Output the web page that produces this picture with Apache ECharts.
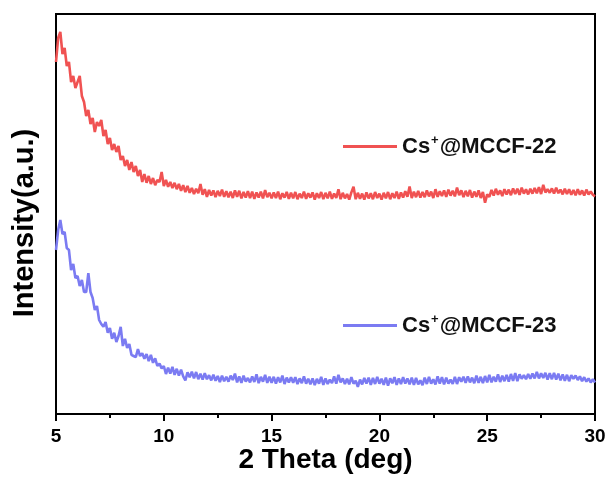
<!DOCTYPE html>
<html>
<head>
<meta charset="utf-8">
<script src="https://cdn.jsdelivr.net/npm/echarts@6/dist/echarts.min.js"></script>
<style>html,body{margin:0;padding:0;background:#fff}#c{width:610px;height:477px}</style>
</head>
<body>
<div id="c"></div>
<script>
// 2θ grid: 5.0 .. 30.0 deg, step 0.1 deg
const thetaStart = 5;
const thetaStep = 0.1;
const xTicks = [5, 10, 15, 20, 25, 30];
const seriesNames = ['Cs+@MCCF-22', 'Cs+@MCCF-23'];

// Intensity (a.u.)
const mccf22 = [
  88, 94, 95.5, 90, 91.5, 87, 88, 83, 84.5, 81.5,
  83, 84.5, 79.5, 78, 74.5, 76, 72.5, 74, 70.5, 73,
  72, 73.5, 69.5, 71, 67.5, 69, 66, 67.5, 65.5, 67,
  63.5, 64.5, 62, 63.5, 61, 63, 60.5, 62, 59.5, 61,
  58, 60, 57.8, 59.5, 57.5, 59, 57.2, 58.5, 58, 60.5,
  57, 58.5, 56.8, 58, 56.5, 57.8, 56.2, 57.5, 55.8, 57.2,
  55.5, 57, 55.3, 56.5, 55, 56.3, 55.2, 57.5, 54.8, 56.2,
  54.3, 56, 54.6, 55.9, 54.2, 55.8, 54.5, 56.1, 54.3, 55.7,
  54.2, 55.6, 54, 55.9, 54.3, 55.8, 53.9, 55.5, 54.1, 55.7,
  54, 55.6, 53.8, 55.4, 54.1, 55.6, 53.9, 56, 54.2, 55.3,
  53.9, 55.4, 54, 55.6, 53.7, 55.2, 54.1, 55.5, 53.8, 55.3,
  53.9, 55.5, 53.7, 55.1, 54, 55.6, 53.8, 55.2, 54.1, 55.4,
  53.6, 55.2, 54, 55.5, 53.7, 55.3, 53.9, 55.6, 53.8, 55.1,
  54, 56.2, 53.7, 55.3, 53.9, 55, 53.6, 55.4, 56.8, 53.7,
  55.3, 53.8, 55.1, 53.6, 55.4, 53.9, 55.2, 53.7, 55.5, 54,
  55.1, 53.6, 55.3, 53.9, 55.5, 53.7, 55.2, 54, 55.6, 53.8,
  55.4, 54.1, 55.7, 54.3, 56.9, 54, 55.6, 54.2, 55.8, 54.1,
  55.5, 54.2, 55.9, 54.4, 55.6, 54, 56.2, 54.3, 55.7, 54.5,
  55.9, 54.3, 56.1, 54.6, 55.8, 54.4, 56.6, 54.7, 55.9, 54.2,
  55.8, 54.4, 56, 54.1, 55.6, 54.3, 55.9, 54, 55.5, 52.8,
  54.9, 54.3, 56, 54.6, 56.3, 54.8, 55.9, 54.5, 56.2, 54.9,
  56.1, 54.7, 56.4, 55, 56.3, 54.8, 56.6, 55.1, 56.2, 54.9,
  56.3, 55.1, 56.5, 55.2, 56.7, 55, 57.3, 55.4, 56.2, 55.3,
  56.4, 55.1, 56.6, 55.2, 56.1, 54.9, 56.3, 55, 56.2, 54.8,
  56, 54.7, 56.2, 54.8, 55.9, 54.6, 56.1, 54.9, 55.6, 54.8,
  54.4
];
const mccf23 = [
  41, 46, 48.5, 45, 45.5, 41.5, 41, 36, 37.5, 34,
  34.5, 32, 33.5, 30.5, 30.5, 35.2, 30.5, 29, 26, 27,
  23.5, 22.5, 21.8, 23, 20.3, 21.5, 18.8, 20.3, 18, 19.5,
  21.8, 17, 18.8, 16.5, 17.5, 14.8, 14.5, 14.2, 16.2, 14.5,
  15.2, 13.8, 15, 13.2, 14.8, 12.8, 13.9, 12, 12.6, 11.4,
  12, 10, 11.6, 10.1, 11.8, 9.8, 11.3, 9.6, 11.1, 9.4,
  8.4, 10.4, 9.2, 10.6, 8.9, 10.5, 8.7, 10.1, 8.6, 10.2,
  8.7, 9.7, 8.4, 9.8, 8.3, 9.5, 8, 9.6, 8.2, 9.3,
  8.1, 9.6, 8.5, 10.1, 7.9, 9.4, 7.8, 9.6, 8.1, 9,
  7.9, 9.4, 8, 9.9, 7.7, 9.3, 8.1, 9.8, 7.8, 9.3,
  7.8, 9.3, 7.6, 9.2, 7.9, 9.6, 7.5, 9.1, 7.9, 9.2,
  7.8, 9.2, 7.5, 8.9, 7.7, 9.4, 7.6, 8.8, 7.4, 8.9,
  7.2, 8.8, 7.6, 9.3, 7.3, 8.9, 7.5, 8.6, 7.7, 9.4,
  7.6, 9.8, 7.9, 8.9, 7.5, 8.8, 7.4, 9.2, 7.6, 8.3,
  6.8, 8.6, 7.4, 9, 7.6, 9.1, 7.3, 9, 7.5, 9.3,
  7.6, 8.8, 7.3, 9.1, 7.1, 8.9, 7.7, 9.2, 7.3, 8.9,
  7.5, 9.2, 7.6, 8.9, 7.4, 9.1, 7.3, 9, 7.4, 8.4,
  7.2, 9.1, 7.5, 9.3, 7.6, 8.7, 7.4, 9.4, 7.6, 9.2,
  7.4, 9.1, 7.6, 8.6, 7.5, 9.3, 7.5, 9.2, 8.1, 9.3,
  7.8, 9.4, 7.9, 9.1, 7.7, 9.6, 7.8, 9.3, 7.7, 9.5,
  7.9, 9.8, 7.9, 9.3, 8.1, 9.9, 8, 9.6, 8.2, 9.8,
  8.1, 10, 8.3, 10.2, 8.2, 9.9, 8.8, 9.7, 8.7, 10,
  8.8, 10.1, 8.9, 10.5, 8.9, 10.2, 9, 10.3, 8.6, 10.2,
  8.7, 10.3, 8.6, 10.1, 8.4, 9.9, 8.3, 9.8, 8.2, 9.7,
  8.8, 9.6, 8.5, 9.4, 8.2, 9.2, 8.1, 8.9, 7.9, 8.7,
  7.9
];

function pairs(arr) {
  return arr.map((v, i) => [+(thetaStart + i * thetaStep).toFixed(1), v]);
}

const RED = '#F05252';
const BLUE = '#7B7BF2';
const FONT = 'Liberation Sans, Arial, sans-serif';

const legendRich = {
  a: { fontSize: 22, fontWeight: 'bold', fontFamily: FONT, color: '#111', lineHeight: 24 },
  b: { fontSize: 13, fontWeight: 'bold', fontFamily: FONT, color: '#111', padding: [0, 1, 12, 1] }
};
function legendFmt(name) {
  const parts = name.split('+');
  return '{a|' + parts[0] + '}{b|+}{a|' + parts[1] + '}';
}

const chart = echarts.init(document.getElementById('c'), null, { renderer: 'canvas' });
chart.setOption({
  animation: false,
  backgroundColor: '#ffffff',
  grid: { left: 56, right: 15, top: 14, bottom: 63, show: true, borderColor: '#000', borderWidth: 2, backgroundColor: 'transparent', outerBoundsMode: 'none', containLabel: false },
  legend: [
    {
      data: [{ name: seriesNames[0], icon: 'rect' }],
      left: 343, top: 134, padding: 0, itemWidth: 54, itemHeight: 3, itemGap: 0,
      formatter: legendFmt, textStyle: { rich: legendRich },
      selectedMode: false
    },
    {
      data: [{ name: seriesNames[1], icon: 'rect' }],
      left: 343, top: 313, padding: 0, itemWidth: 54, itemHeight: 3, itemGap: 0,
      formatter: legendFmt, textStyle: { rich: legendRich },
      selectedMode: false
    }
  ],
  xAxis: {
    type: 'value', min: xTicks[0], max: xTicks[xTicks.length - 1], interval: 5,
    name: '2 Theta (deg)', nameLocation: 'middle', nameGap: 32, nameMoveOverlap: false,
    nameTextStyle: { fontSize: 28, fontWeight: 'bold', fontFamily: FONT, color: '#000' },
    axisLine: { lineStyle: { color: '#000', width: 2 } },
    axisTick: { show: true, inside: false, length: 7, lineStyle: { color: '#000', width: 2 } },
    minorTick: { show: true, splitNumber: 2, length: 4, lineStyle: { color: '#000', width: 2 } },
    axisLabel: { fontSize: 19, fontWeight: 'bold', fontFamily: FONT, color: '#000', margin: 13 },
    splitLine: { show: false }
  },
  yAxis: {
    type: 'value', min: 0, max: 100,
    name: 'Intensity(a.u.)', nameLocation: 'middle', nameGap: 17, nameMoveOverlap: false,
    nameTextStyle: { fontSize: 29, fontWeight: 'bold', fontFamily: FONT, color: '#000', padding: [0, 18, 0, 0] },
    axisLine: { show: true, lineStyle: { color: '#000', width: 2 } },
    axisTick: { show: false },
    axisLabel: { show: false },
    splitLine: { show: false }
  },
  series: [
    {
      name: seriesNames[0], type: 'line', data: pairs(mccf22), symbol: 'none',
      lineStyle: { color: RED, width: 2.6 }, itemStyle: { color: RED }
    },
    {
      name: seriesNames[1], type: 'line', data: pairs(mccf23), symbol: 'none',
      lineStyle: { color: BLUE, width: 2.6 }, itemStyle: { color: BLUE }
    }
  ]
});
</script>
</body>
</html>
